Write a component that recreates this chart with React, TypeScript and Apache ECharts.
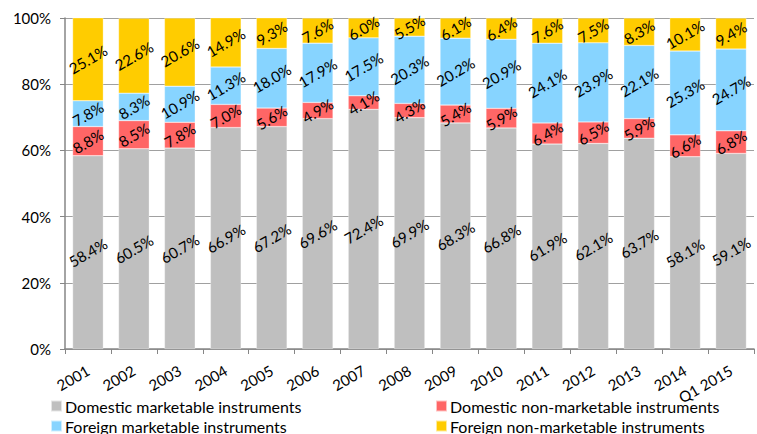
import React, { useEffect, useRef } from "react";
import * as echarts from "echarts";

const years = ["2001", "2002", "2003", "2004", "2005", "2006", "2007", "2008", "2009", "2010", "2011", "2012", "2013", "2014", "Q1 2015"];
const domesticMarketable = [58.4, 60.5, 60.7, 66.9, 67.2, 69.6, 72.4, 69.9, 68.3, 66.8, 61.9, 62.1, 63.7, 58.1, 59.1];
const domesticNonMarketable = [8.8, 8.5, 7.8, 7.0, 5.6, 4.9, 4.1, 4.3, 5.4, 5.9, 6.4, 6.5, 5.9, 6.6, 6.8];
const foreignMarketable = [7.8, 8.3, 10.9, 11.3, 18.0, 17.9, 17.5, 20.3, 20.2, 20.9, 24.1, 23.9, 22.1, 25.3, 24.7];
const foreignNonMarketable = [25.1, 22.6, 20.6, 14.9, 9.3, 7.6, 6.0, 5.5, 6.1, 6.4, 7.6, 7.5, 8.3, 10.1, 9.4];

const seriesNames = [
  "Domestic marketable instruments",
  "Domestic non-marketable instruments",
  "Foreign marketable instruments",
  "Foreign non-marketable instruments",
];

const FONT = "Lato, 'Open Sans', sans-serif";

export default function App() {
  const ref = useRef<HTMLDivElement>(null);

  useEffect(() => {
    if (!ref.current) return;
    const chart = echarts.init(ref.current, undefined, { renderer: "svg" });

    const mk = (name: string, data: number[], color: string) => ({
      name,
      type: "bar",
      stack: "total",
      data,
      barCategoryGap: "33%",
      itemStyle: { color, borderColor: "rgba(255,255,255,0.6)", borderWidth: 0.5 },
      label: {
        show: true,
        position: "inside",
        rotate: 30,
        formatter: (p: any) => p.value.toFixed(1) + "%",
        color: "#000",
        fontFamily: FONT,
        fontSize: 15,
      },
    });

    // one legend per entry, laid out as a 2x2 block under the axis
    const legendSpots = [
      { left: 50, top: 398 },
      { left: 435, top: 398 },
      { left: 50, top: 418 },
      { left: 435, top: 418 },
    ];
    const legends = seriesNames.map((n, i) => ({
      ...legendSpots[i],
      itemWidth: 11,
      itemHeight: 11,
      itemGap: 0,
      padding: 0,
      icon: "rect",
      data: [n],
      textStyle: { fontFamily: FONT, fontSize: 16, lineHeight: 16, color: "#000", padding: [0, 0, 0, -2] },
    }));

    chart.setOption({
      animation: false,
      grid: { left: 65, right: 3, top: 18, bottom: 85 },
      xAxis: {
        type: "category",
        data: years,
        axisLine: { lineStyle: { color: "#868686", width: 1.5 } },
        axisTick: { show: true, alignWithLabel: false, length: 5, lineStyle: { color: "#868686" } },
        axisLabel: {
          rotate: 30,
          interval: 0,
          margin: 20,
          color: "#000",
          fontFamily: FONT,
          fontSize: 15,
        },
      },
      yAxis: {
        type: "value",
        min: 0,
        max: 100,
        interval: 20,
        axisLine: { show: true, lineStyle: { color: "#868686", width: 1.5 } },
        axisTick: { show: true, length: 5, inside: false, lineStyle: { color: "#868686" } },
        splitLine: { lineStyle: { color: "#a0a0a0", width: 1 } },
        axisLabel: {
          formatter: "{value}%",
          margin: 14,
          color: "#000",
          fontFamily: FONT,
          fontSize: 15,
        },
      },
      legend: legends,
      series: [
        mk(seriesNames[0], domesticMarketable, "#bfbfbf"),
        mk(seriesNames[1], domesticNonMarketable, "#ff6666"),
        mk(seriesNames[2], foreignMarketable, "#87d4ff"),
        mk(seriesNames[3], foreignNonMarketable, "#ffcc00"),
      ],
    });

    return () => chart.dispose();
  }, []);

  return <div ref={ref} style={{ width: 757, height: 434, position: "absolute", left: 0, top: 0 }} />;
}
